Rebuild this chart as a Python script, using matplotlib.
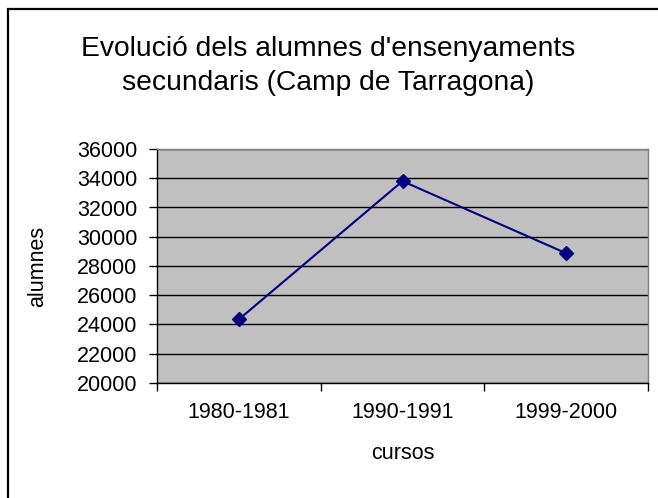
import matplotlib
matplotlib.use('Agg')
import matplotlib.pyplot as plt
from matplotlib.patches import Rectangle
from matplotlib.ticker import FixedLocator

plt.rcParams['font.family'] = ['Liberation Sans', 'DejaVu Sans']

cursos = ['1980-1981', '1990-1991', '1999-2000']
alumnes = [24350, 33800, 28870]
yticks = [20000, 22000, 24000, 26000, 28000, 30000, 32000, 34000, 36000]

fig = plt.figure(figsize=(6.58, 4.98), dpi=100)
fig.patch.set_facecolor('white')

# outer chart frame (right/bottom edges fall outside the picture)
fig.patches.append(Rectangle((8/658, -0.2), 1.2, (498-9)/498 + 0.2,
                             transform=fig.transFigure, fill=False,
                             edgecolor='black', linewidth=1.6))

ax = fig.add_axes([157/658, (498-383)/498, 491/658, 234/498])
ax.set_facecolor('#C0C0C0')

x = list(range(len(cursos)))
ax.plot(x, alumnes, color='#000080', linewidth=1.5, marker='D',
        markersize=7.5, zorder=3, clip_on=False)

ax.set_xlim(-0.5, len(cursos) - 0.5)
ax.set_ylim(20000, 36000)
ax.set_yticks(yticks)
ax.set_yticklabels([str(v) for v in yticks], fontsize=15.5)
ax.yaxis.grid(True, color='black', linewidth=1)
ax.set_axisbelow(True)

ax.set_xticks(x)
ax.set_xticklabels(cursos, fontsize=15.5)
ax.xaxis.set_minor_locator(FixedLocator([-0.5, 0.5, 1.5, 2.5]))
ax.tick_params(axis='x', which='major', length=0, pad=14)
ax.tick_params(axis='x', which='minor', length=6, width=1, color='black')
ax.tick_params(axis='y', length=6, width=1, color='black', pad=8)

for s in ['top', 'right']:
    ax.spines[s].set_color('#808080')
    ax.spines[s].set_linewidth(1)
for s in ['left', 'bottom']:
    ax.spines[s].set_color('black')
    ax.spines[s].set_linewidth(1)

ax.set_xlabel('cursos', fontsize=15.5, labelpad=14)
ax.set_ylabel('alumnes', fontsize=15.5, labelpad=21)

fig.text(328/658, 1 - 66/498, "Evolució dels alumnes d'ensenyaments\nsecundaris (Camp de Tarragona)",
         ha='center', va='center', fontsize=20.3, linespacing=1.4)

fig.savefig('out.png', dpi=100)
